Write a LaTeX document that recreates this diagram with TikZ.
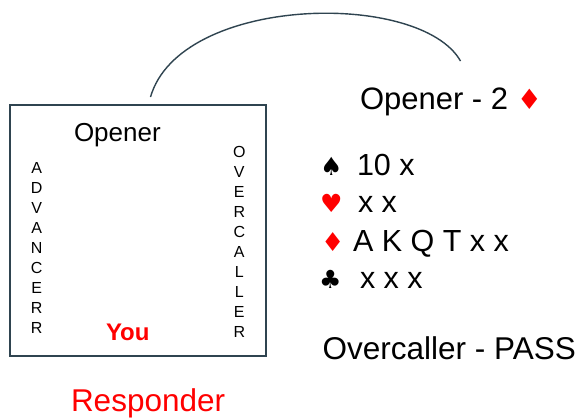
\documentclass[tikz,border=0pt]{standalone}
\usepackage{fontspec}
\setmainfont{Liberation Sans}
\newfontfamily\suitfont{DejaVu Sans}
\definecolor{boxline}{HTML}{2F4450}
\definecolor{cardred}{HTML}{FF0000}
\tikzset{
  txt/.style={inner sep=0pt, outer sep=0pt, anchor=base west},
  suit/.style={inner sep=0pt, outer sep=0pt, anchor=base west},
  vletters/.style={inner sep=0pt, align=center, font=\fontsize{16}{20}\selectfont},
}
\begin{document}
\begin{tikzpicture}[x=1pt,y=-1pt]
\useasboundingbox[fill=white] (0,0) rectangle (580,418);
% table box
\node[draw=boxline, line width=2pt, minimum width=256.5pt, minimum height=251.5pt, inner sep=0pt] (table) at (137.75,230.25) {};
\coordinate (arcstart) at (150.5,97);
\coordinate (arcend) at (460.5,61);
\draw[boxline, line width=1.4pt] (arcstart) .. controls (180,-5) and (420,-10) .. (arcend);
% inside the box
\node[txt, font=\fontsize{26}{30}\selectfont] (boxopener) at (74,141.7) {Opener};
\node[txt, font=\fontsize{24}{28}\selectfont\bfseries, text=cardred] (you) at (106,340) {You};
\node[vletters] (advancer) at (36.7,247.8) {A\\D\\V\\A\\N\\C\\E\\R\\R};
\node[vletters] (overcaller) at (239.3,242.3) {O\\V\\E\\R\\C\\A\\L\\L\\E\\R};
\node[txt, font=\fontsize{31.5}{36}\selectfont, text=cardred] (responder) at (71,411.7) {Responder};
% right side
\node[txt, font=\fontsize{31}{36}\selectfont] (openerbid) at (360,109.5) {Opener - 2 {\suitfont\textcolor{cardred}{\fontsize{28}{30}\selectfont ♦}}};
\node[suit, font=\suitfont\fontsize{25}{28}\selectfont] (spade) at (320,175) {♠};
\node[txt, font=\fontsize{30.5}{34}\selectfont] (spades) at (357,175) {10 x};
\node[suit, font=\suitfont\fontsize{25}{28}\selectfont, text=cardred] (heart) at (320,212.7) {♥};
\node[txt, font=\fontsize{30.5}{34}\selectfont] (hearts) at (358,212.7) {x x};
\node[suit, font=\suitfont\fontsize{26}{28}\selectfont, text=cardred] (diamond) at (321,251.7) {♦};
\node[txt, font=\fontsize{30.5}{34}\selectfont] (diamonds) at (353,251.7) {A K Q T x x};
\node[suit, font=\suitfont\fontsize{25}{28}\selectfont] (club) at (319,288) {♣};
\node[txt, font=\fontsize{30.5}{34}\selectfont] (clubs) at (360,288) {x x x};
\node[txt, font=\fontsize{31.5}{36}\selectfont] (overpass) at (322.7,359.3) {Overcaller - PASS};
\end{tikzpicture}
\end{document}
